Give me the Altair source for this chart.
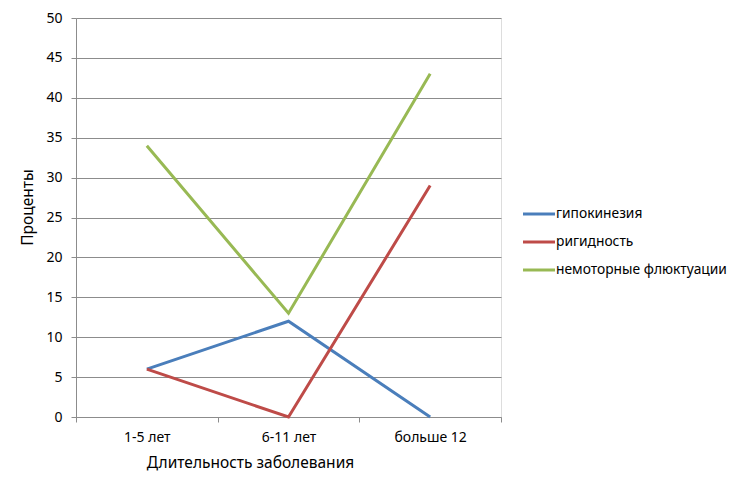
import altair as alt
import pandas as pd

categories = ["1-5 лет", "6-11 лет", "больше 12"]
series_names = ["гипокинезия", "ригидность", "немоторные флюктуации"]
hypokinesia = [6, 12, 0]
rigidity = [6, 0, 29]
nonmotor = [34, 13, 43]
colors = ["#4A7EBB", "#BE4B48", "#98B954"]
y_ticks = list(range(0, 51, 5))

rows = []
for name, vals in zip(series_names, [hypokinesia, rigidity, nonmotor]):
    for c, v in zip(categories, vals):
        rows.append({"cat": c, "series": name, "value": v})
df = pd.DataFrame(rows)

FONT = "Noto Sans"
GRID = "#8c8c8c"

lines = alt.Chart(df).mark_line(strokeWidth=3).encode(
    x=alt.X("cat:N", sort=categories, scale=alt.Scale(paddingInner=0, paddingOuter=0),
            axis=alt.Axis(title="Длительность заболевания", labelAngle=0, tickBand="extent",
                          domainColor=GRID, tickColor=GRID, tickSize=5, labelPadding=8,
                          labelFontSize=14, titleFontSize=15.5, titleFontWeight="normal",
                          titlePadding=11, titleX=174, titleAlign="center",
                          labelColor="#000", titleColor="#000",
                          labelFont=FONT, titleFont=FONT, grid=False)),
    y=alt.Y("value:Q", scale=alt.Scale(domain=[0, 50], nice=False),
            axis=alt.Axis(title="Проценты", values=y_ticks, grid=True, gridColor=GRID,
                          gridOpacity=1, domainColor=GRID, tickColor=GRID, tickSize=5,
                          labelPadding=9, labelFontSize=14, titleFontSize=15.5,
                          titleFontWeight="normal", titlePadding=10, titleY=189,
                          labelColor="#000",
                          titleColor="#000", labelFont=FONT, titleFont=FONT)),
    color=alt.Color("series:N", sort=series_names,
                    scale=alt.Scale(domain=series_names, range=colors), legend=None),
    detail="series:N",
)

layers = [lines]
legend_y = [196, 224, 252]
for name, col, ly in zip(series_names, colors, legend_y):
    ld = pd.DataFrame({"label": [name]})
    layers.append(alt.Chart(ld).mark_rule(strokeWidth=3, color=col).encode(
        x=alt.value(447), x2=alt.value(479), y=alt.value(ly)))
    layers.append(alt.Chart(ld).mark_text(align="left", baseline="middle", font=FONT,
                                          fontSize=13.8, color="#000").encode(
        x=alt.value(480), y=alt.value(ly), text="label:N"))

chart = alt.layer(*layers).properties(
    width=425, height=399,
    autosize=alt.AutoSizeParams(type="none"),
    padding={"left": 68, "top": 10, "right": 230, "bottom": 63},
).configure_view(stroke=None).configure(background="white")

chart.save("out.html", embed_options={"renderer": "svg", "actions": False})
